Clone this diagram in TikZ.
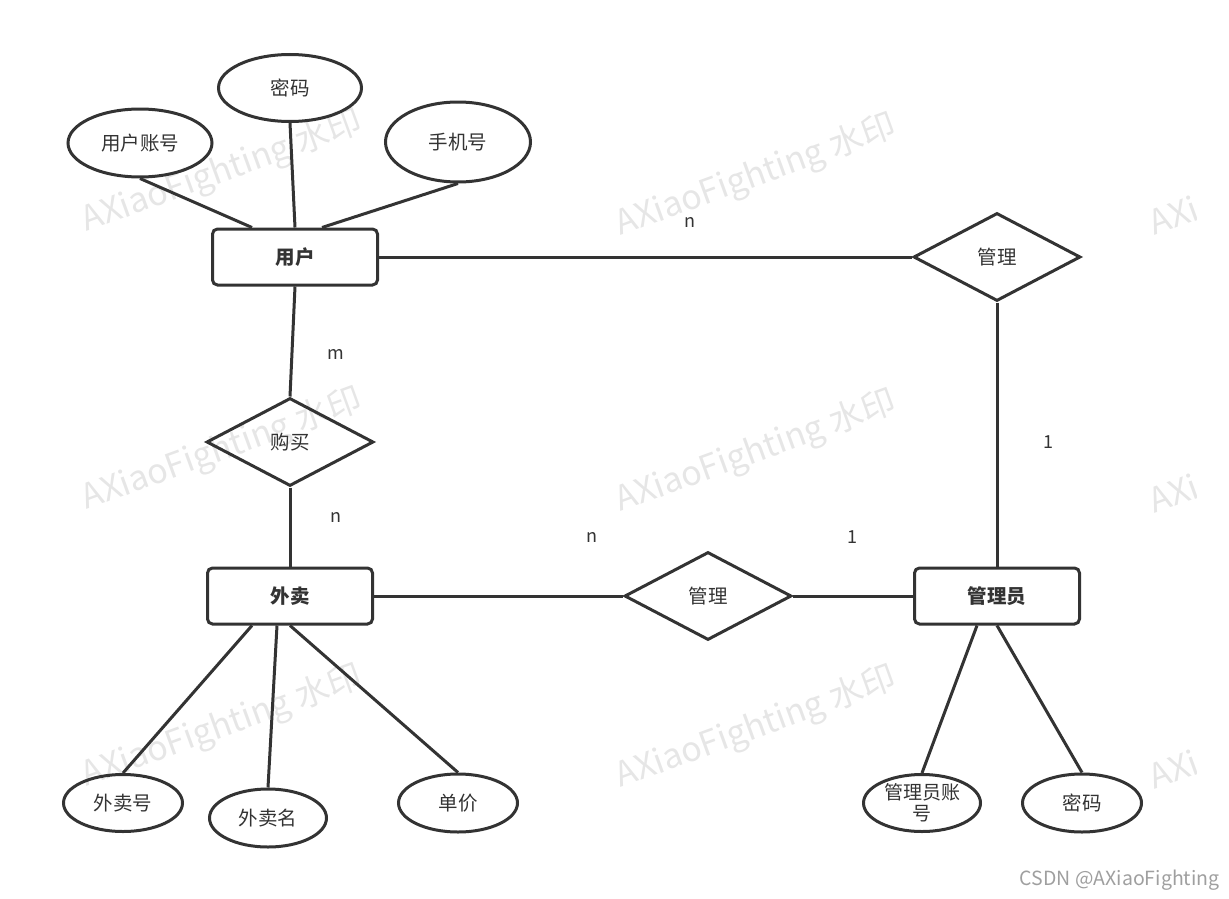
\documentclass[tikz,border=0pt]{standalone}
\usepackage{fontspec}
\setmainfont{Noto Sans CJK SC}
\usetikzlibrary{shapes.geometric}
\definecolor{inkgray}{HTML}{333333}
\definecolor{markgray}{HTML}{E6E6E6}

\begin{document}
\begin{tikzpicture}[x=1pt, y=-1pt,
        every node/.style={font=\fontsize{19.5}{23}\selectfont, text=inkgray},
        entity/.style={draw=inkgray, line width=3pt, rounded corners=5pt, minimum width=165pt, minimum height=56pt, inner sep=0pt, font=\fontsize{19.5}{23}\selectfont\bfseries},
        relation/.style={draw=inkgray, line width=3pt, diamond, minimum width=167pt, minimum height=88pt, inner sep=0pt},
        attr/.style={draw=inkgray, line width=3pt, ellipse, inner sep=0pt},
        link/.style={draw=inkgray, line width=3pt},
        card/.style={font=\fontsize{18}{21}\selectfont},
        wmark/.style={text=markgray, rotate=20, font=\fontsize{34}{37}\selectfont}]
        \useasboundingbox (0,0) rectangle (1229,899);
        % ---- watermarks ----
        \begin{scope}
            \clip (0,0) rectangle (1196,899);
            \foreach \wx/\wy [count=\wi] in {222/172, 756/176, 1290/176, 222/450, 756/452, 1290/454, 222/727, 756/728, 1290/730} {
                \node[wmark] (mark\wi) at (\wx,\wy) {AXiaoFighting 水印};
            }
        \end{scope}
        % ---- entities ----
        \node[entity] (user)  at (295,257) {用户};
        \node[entity] (food)  at (290,596) {外卖};
        \node[entity] (admin) at (997,596) {管理员};
        % ---- relations ----
        \node[relation] (buy)  at (290,442) {购买};
        \node[relation] (mgrA) at (997,257) {管理};
        \node[relation] (mgrB) at (708,596) {管理};
        % ---- attributes ----
        \node[attr, minimum width=143pt, minimum height=67pt] (upwd)   at (290,88)  {密码};
        \node[attr, minimum width=144pt, minimum height=68pt] (uacc)   at (140,143) {用户账号};
        \node[attr, minimum width=145pt, minimum height=80pt] (uphone) at (458,142) {手机号};
        \node[attr, minimum width=119pt, minimum height=57pt] (fno)    at (123,803) {外卖号};
        \node[attr, minimum width=117pt, minimum height=58pt] (fname)  at (268,818) {外卖名};
        \node[attr, minimum width=119pt, minimum height=58pt] (fprice) at (458,803) {单价};
        \node[attr, minimum width=117pt, minimum height=57pt, align=center, font=\fontsize{19}{21}\selectfont] (aacc) at (922,803) {管理员账\\号};
        \node[attr, minimum width=119pt, minimum height=58pt] (apwd)   at (1082,803) {密码};
        % ---- attribute links ----
        \draw[link] (uacc.south) -- ([xshift=-43pt]user.north);
        \draw[link] (upwd.south) -- (user.north);
        \draw[link] (uphone.south) -- ([xshift=27pt]user.north);
        \draw[link] ([xshift=-38pt]food.south) -- (fno.north);
        \draw[link] ([xshift=-13pt]food.south) -- (fname.north);
        \draw[link] (food.south) -- (fprice.north);
        \draw[link] ([xshift=-20pt]admin.south) -- (aacc.north);
        \draw[link] (admin.south) -- (apwd.north);
        % ---- relation links ----
        \draw[link] (user.east) -- (mgrA.west);
        \draw[link] (mgrA.south) -- (admin.north);
        \draw[link] (user.south) -- (buy.north);
        \draw[link] (buy.south) -- (food.north);
        \draw[link] (food.east) -- (mgrB.west);
        \draw[link] (mgrB.east) -- (admin.west);
        % ---- cardinalities ----
        \node[card] (cardUM) at (690,222)  {n};
        \node[card] (cardUB) at (336,354)  {m};
        \node[card] (cardFB) at (336,517)  {n};
        \node[card] (cardAM) at (1048,442) {1};
        \node[card] (cardFM) at (592,537)  {n};
        \node[card] (cardAB) at (852,537)  {1};
        % ---- footer ----
        \node[anchor=east, text=gray!75] (csdn) at (1223,880) {CSDN @AXiaoFighting};
    \end{tikzpicture}
\end{document}
